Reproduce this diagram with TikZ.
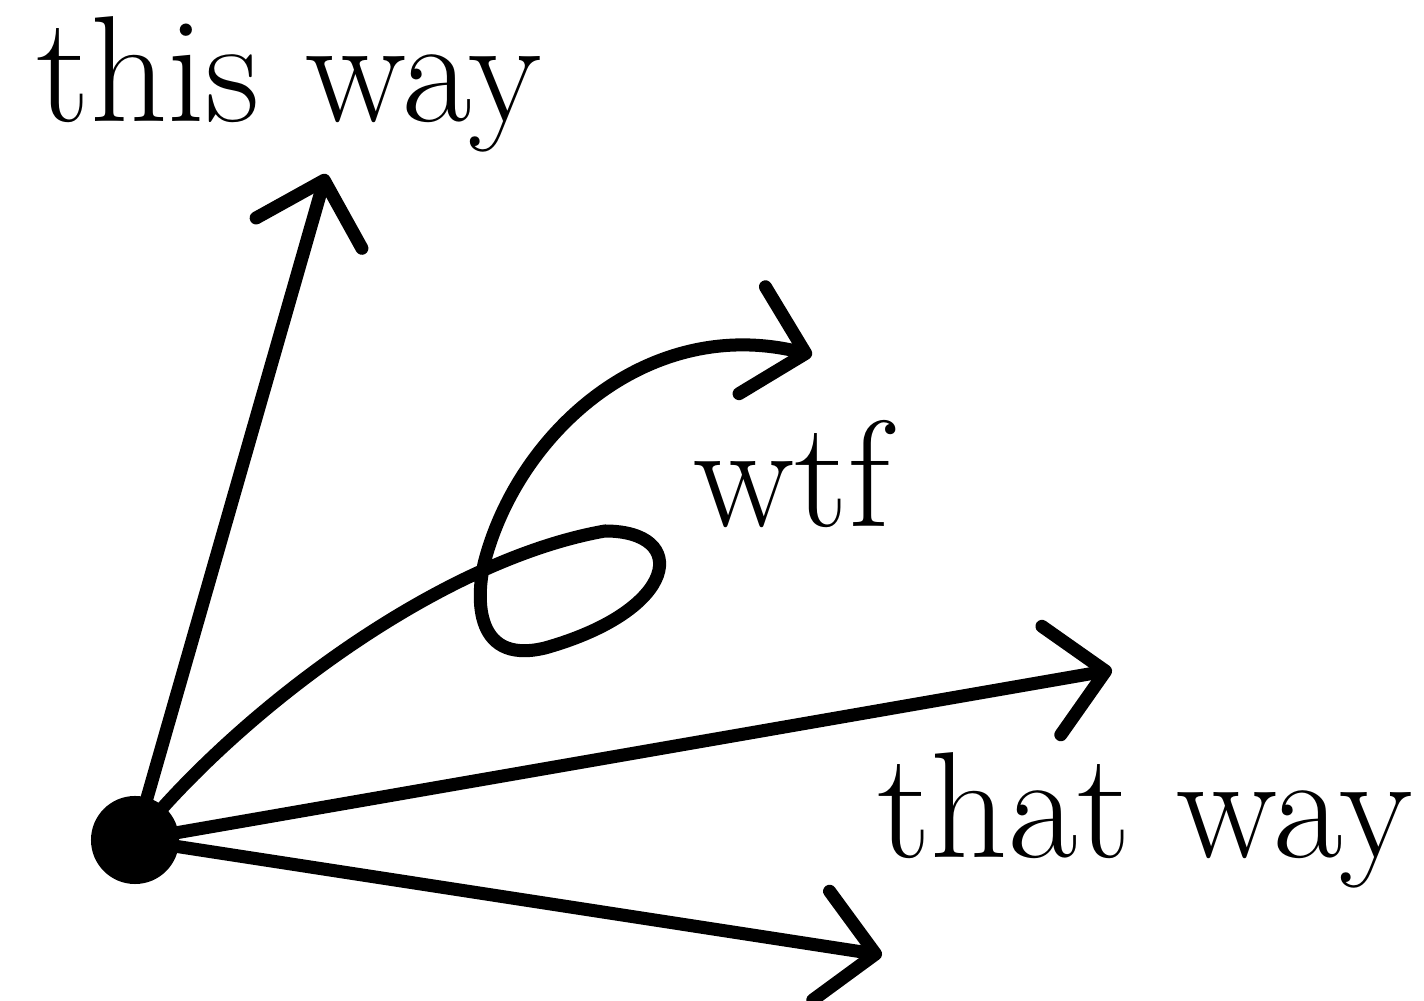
\documentclass[tikz,border=0pt]{standalone}
\usepackage{fontspec}
\usepackage{xcolor}
\usepackage{tikz}
\usetikzlibrary{arrows.meta}
\definecolor{wayink}{RGB}{0,0,0}
\tikzset{
  waylabel/.style={
    font=\fontsize{43}{50}\selectfont, text=wayink,
    inner sep=0pt, anchor=base
  },
  hub/.style={circle, fill=wayink, inner sep=0pt, minimum size=8.8mm},
  wayarr/.style={
    -{Straight Barb[length=5.5mm,width=11mm,round]},
    draw=wayink, line width=3.7pt, line cap=round, line join=round
  }
}

\begin{document}
\begin{tikzpicture}[x=0.01cm, y=-0.01cm]
  \useasboundingbox (0,0) rectangle (1424,1001);

  % labels
  \node[waylabel] (thisway) at (289,122) {this way};
  \node[waylabel] (thatway) at (1145,858) {that way};
  \node[waylabel] (wtf) at (792,527) {wtf};

  % arrow ends
  \coordinate (upend) at (326,174);
  \coordinate (rightend) at (1112,670);
  \coordinate (downend) at (882,955);
  \coordinate (loopend) at (812,355);

  \node[hub] (dot) at (135,840) {};

  \draw[wayarr] (dot.center) -- (upend);
  \draw[wayarr] (dot.center) -- (rightend);
  \draw[wayarr] (dot.center) -- (downend);
  \draw[wayarr] (dot.center)
    .. controls (240,710) and (440,560) .. (605,531)
    .. controls (690,531) and (680,610) .. (545,648)
    .. controls (470,666) and (477,590) .. (485,560)
    .. controls (520,430) and (650,315) .. (loopend);
\end{tikzpicture}
\end{document}
